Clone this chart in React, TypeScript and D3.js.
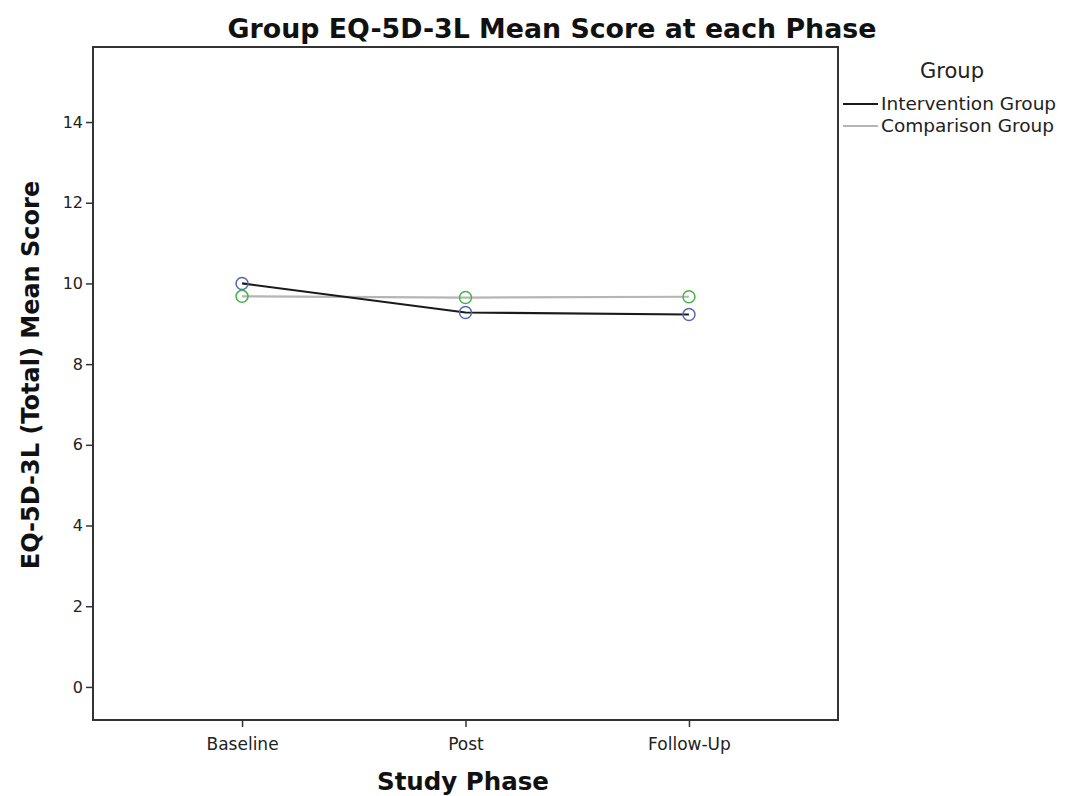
import React, { useEffect, useRef } from "react";
import * as d3 from "d3";

const phases = ["Baseline", "Post", "Follow-Up"];
const groups = ["Intervention Group", "Comparison Group"];
const intervention = [10.0, 9.28, 9.23];
const comparison = [9.68, 9.65, 9.67];
const yTicks = [0, 2, 4, 6, 8, 10, 12, 14];

const W = 1065;
const H = 796;
const font = "'DejaVu Sans', sans-serif";

export default function App() {
  const ref = useRef<SVGSVGElement>(null);

  useEffect(() => {
    const svg = d3.select(ref.current);
    svg.selectAll("*").remove();

    const left = 93, right = 838, top = 47, bottom = 720;

    const x = d3.scalePoint<string>().domain(phases).range([left, right]).padding(0.667);
    const y = d3.scaleLinear().domain([-0.82, 15.86]).range([bottom, top]);

    svg.append("rect")
      .attr("x", left).attr("y", top)
      .attr("width", right - left).attr("height", bottom - top)
      .attr("fill", "none").attr("stroke", "#333").attr("stroke-width", 2);

    const yAxis = svg.append("g")
      .attr("transform", `translate(${left},0)`)
      .call(d3.axisLeft(y).tickValues(yTicks).tickSize(7).tickPadding(3).tickFormat(d3.format("d")));
    yAxis.select(".domain").remove();
    yAxis.selectAll("line").attr("stroke", "#333").attr("stroke-width", 1.5);
    yAxis.selectAll("text").attr("font-family", font).attr("font-size", 16).attr("fill", "#222");

    const xAxis = svg.append("g")
      .attr("transform", `translate(0,${bottom})`)
      .call(d3.axisBottom(x).tickSize(7).tickPadding(11));
    xAxis.select(".domain").remove();
    xAxis.selectAll("line").attr("stroke", "#333").attr("stroke-width", 1.5);
    xAxis.selectAll("text").attr("font-family", font).attr("font-size", 17).attr("fill", "#222");

    const line = d3.line<number>()
      .x((_, i) => x(phases[i]) as number)
      .y((d) => y(d));

    const series = [
      { name: groups[0], values: intervention, color: "#1a1a1a", marker: "#5468b8" },
      { name: groups[1], values: comparison, color: "#b5b5b5", marker: "#44b54a" },
    ];

    // comparison first so the intervention line sits on top
    [series[1], series[0]].forEach((s) => {
      svg.append("path")
        .datum(s.values)
        .attr("d", line)
        .attr("fill", "none")
        .attr("stroke", s.color)
        .attr("stroke-width", 2.2);
    });
    series.forEach((s) => {
      svg.selectAll(null)
        .data(s.values)
        .enter().append("circle")
        .attr("cx", (_, i) => x(phases[i]) as number)
        .attr("cy", (d) => y(d))
        .attr("r", 6)
        .attr("fill", "none")
        .attr("stroke", s.marker)
        .attr("stroke-width", 1.5);
    });

    svg.append("text")
      .attr("x", 552).attr("y", 38)
      .attr("text-anchor", "middle")
      .attr("font-family", font).attr("font-weight", "bold")
      .attr("font-size", 26.8).attr("fill", "#111")
      .text("Group EQ-5D-3L Mean Score at each Phase");

    svg.append("text")
      .attr("transform", `translate(39,375) rotate(-90)`)
      .attr("text-anchor", "middle")
      .attr("font-family", font).attr("font-weight", "bold")
      .attr("font-size", 24).attr("fill", "#111")
      .text("EQ-5D-3L (Total) Mean Score");

    svg.append("text")
      .attr("x", 463).attr("y", 790)
      .attr("text-anchor", "middle")
      .attr("font-family", font).attr("font-weight", "bold")
      .attr("font-size", 24.5).attr("fill", "#111")
      .text("Study Phase");

    const legend = svg.append("g");
    legend.append("text")
      .attr("x", 952).attr("y", 78)
      .attr("text-anchor", "middle")
      .attr("font-family", font).attr("font-size", 21).attr("fill", "#222")
      .text("Group");
    series.forEach((s, i) => {
      const ly = 104 + i * 22;
      legend.append("line")
        .attr("x1", 843).attr("x2", 878)
        .attr("y1", ly).attr("y2", ly)
        .attr("stroke", s.color).attr("stroke-width", 2.2);
      legend.append("text")
        .attr("x", 881).attr("y", ly + 6)
        .attr("font-family", font).attr("font-size", 18.5).attr("fill", "#222")
        .text(s.name);
    });
  }, []);

  return <svg ref={ref} width={W} height={H} style={{ position: "absolute", left: 0, top: 0, background: "#fff" }} />;
}
